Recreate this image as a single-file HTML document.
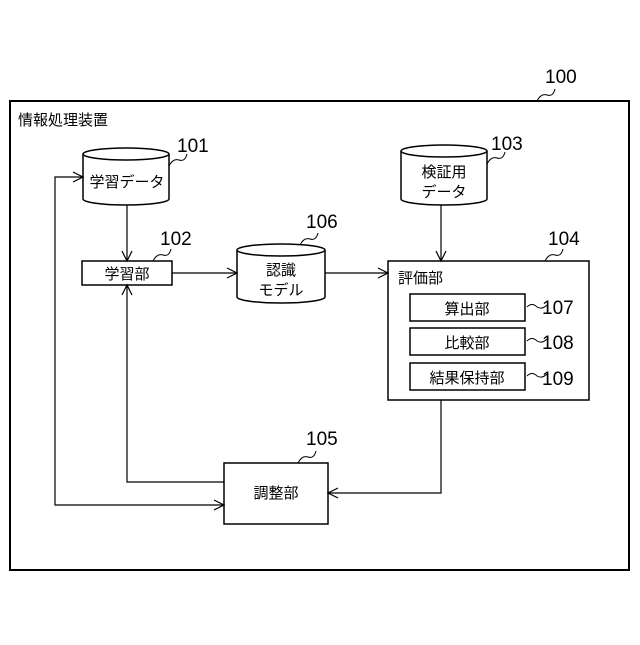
<!DOCTYPE html>
<html><head><meta charset="utf-8"><style>body{margin:0;background:#fff}</style></head><body>
<svg width="640" height="640" xmlns="http://www.w3.org/2000/svg" font-family="Liberation Sans, Noto Sans CJK JP, sans-serif" fill="none" stroke="#000" stroke-width="1.5">
<rect x="10" y="101" width="619" height="469" stroke-width="2"/>
<g stroke="none" fill="#000">
<text x="18" y="125" font-size="15">情報処理装置</text>
<text x="545" y="83" font-size="19">100</text>
<text x="177" y="152" font-size="19">101</text>
<text x="160" y="245" font-size="19">102</text>
<text x="306" y="228" font-size="19">106</text>
<text x="491" y="150" font-size="19">103</text>
<text x="548" y="245" font-size="19">104</text>
<text x="306" y="445" font-size="19">105</text>
<text x="542" y="314" font-size="19">107</text>
<text x="542" y="349" font-size="19">108</text>
<text x="542" y="385" font-size="19">109</text>
<text x="127" y="187" font-size="15" text-anchor="middle">学習データ</text>
<text x="127" y="279" font-size="15" text-anchor="middle">学習部</text>
<text x="281" y="275" font-size="15" text-anchor="middle">認識</text>
<text x="281" y="295" font-size="15" text-anchor="middle">モデル</text>
<text x="444" y="177" font-size="15" text-anchor="middle">検証用</text>
<text x="444" y="197" font-size="15" text-anchor="middle">データ</text>
<text x="398" y="283" font-size="15">評価部</text>
<text x="467" y="314" font-size="15" text-anchor="middle">算出部</text>
<text x="467" y="348" font-size="15" text-anchor="middle">比較部</text>
<text x="467" y="383" font-size="15" text-anchor="middle">結果保持部</text>
<text x="276" y="498" font-size="15" text-anchor="middle">調整部</text>
</g>
<path d="M83 154 V199 A43 6 0 0 0 169 199 V154"/><ellipse cx="126" cy="154" rx="43" ry="6"/>
<path d="M237 250 V297 A44 6 0 0 0 325 297 V250"/><ellipse cx="281" cy="250" rx="44" ry="6"/>
<path d="M401 151 V199 A43 6 0 0 0 487 199 V151"/><ellipse cx="444" cy="151" rx="43" ry="6"/>
<rect x="82" y="261" width="90" height="24"/>
<rect x="388" y="261" width="201" height="139"/>
<rect x="410" y="294" width="115" height="27"/>
<rect x="410" y="328" width="115" height="27"/>
<rect x="410" y="363" width="115" height="27"/>
<rect x="224" y="463" width="104" height="61"/>
<path d="M169 166 q4 -8 10 -6 q6 2 8 -6" stroke-width="1"/>
<path d="M153 261 q4 -8 10 -6 q6 2 8 -6" stroke-width="1"/>
<path d="M300 245 q4 -8 10 -6 q6 2 8 -6" stroke-width="1"/>
<path d="M487 164 q4 -8 10 -6 q6 2 8 -6" stroke-width="1"/>
<path d="M545 261 q4 -8 10 -6 q6 2 8 -6" stroke-width="1"/>
<path d="M537 101 q4 -8 10 -6 q6 2 8 -6" stroke-width="1"/>
<path d="M298 463 q4 -8 10 -6 q6 2 8 -6" stroke-width="1"/>
<path d="M527 307 q5 -5 10 0 q5 3 10 -2" stroke-width="1"/>
<path d="M527 341 q5 -5 10 0 q5 3 10 -2" stroke-width="1"/>
<path d="M527 376 q5 -5 10 0 q5 3 10 -2" stroke-width="1"/>
<g stroke-width="1.2">
<path d="M127 205 V261"/><path d="M122 251 L127 261 L132 251"/>
<path d="M172 273 H237"/><path d="M227 268 L237 273 L227 278"/>
<path d="M325 273 H388"/><path d="M378 268 L388 273 L378 278"/>
<path d="M441 205 V261"/><path d="M436 251 L441 261 L446 251"/>
<path d="M441 400 V493 H328"/><path d="M338 488 L328 493 L338 498"/>
<path d="M224 482 H127 V285"/><path d="M122 295 L127 285 L132 295"/>
<path d="M83 177 H55 V505 H224"/><path d="M73 172 L83 177 L73 182"/><path d="M214 500 L224 505 L214 510"/>
</g>
</svg>
</body></html>
